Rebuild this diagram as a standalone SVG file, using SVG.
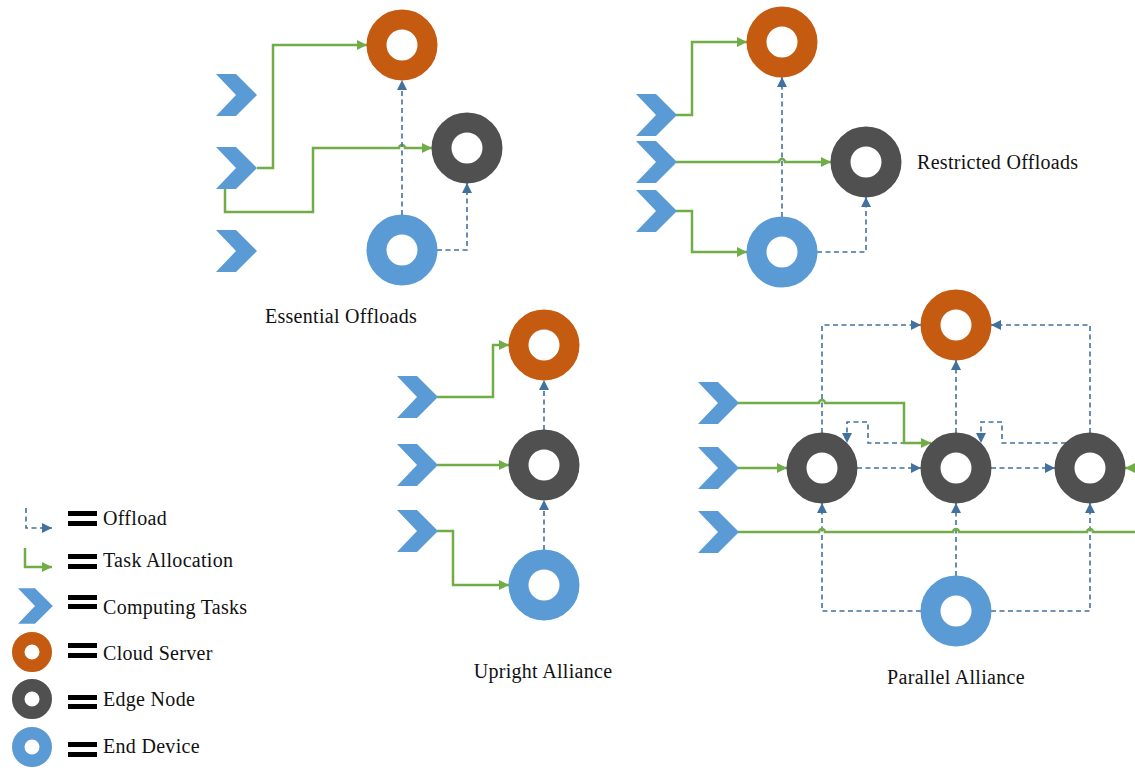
<svg xmlns="http://www.w3.org/2000/svg" width="1135" height="770" viewBox="0 0 1135 770">
  <style>
    .ring { fill: #ffffff; stroke-width: 20; }
    .ring-s { fill: #ffffff; stroke-width: 12.5; }
    .cloud { stroke: #C55A11; }
    .edge { stroke: #505050; }
    .dev { stroke: #5B9BD5; }
    .task { fill: #5B9BD5; }
    .alloc { fill: none; stroke: #70AD47; stroke-width: 2.5; stroke-linejoin: miter; }
    .off { fill: none; stroke: #41719C; stroke-width: 1.6; stroke-dasharray: 5 3.5; }
    .alloc-end { marker-end: url(#ag); }
    .off-end { marker-end: url(#ab); }
    .lbl { font-family: "Liberation Serif", "Times New Roman", serif; font-size: 20px; letter-spacing: 0.3px; fill: #111111; }
    .eq { fill: #000000; }
  </style>
  <defs>
    <marker id="ag" viewBox="0 0 10 10" refX="10" refY="5" markerWidth="11" markerHeight="10" markerUnits="userSpaceOnUse" orient="auto">
      <path d="M0,0 L10,5 L0,10 Z" fill="#70AD47"/>
    </marker>
    <marker id="ab" viewBox="0 0 10 10" refX="10" refY="5" markerWidth="10" markerHeight="10" markerUnits="userSpaceOnUse" orient="auto">
      <path d="M0,0 L10,5 L0,10 Z" fill="#41719C"/>
    </marker>
    <path id="chev" d="M0,-21 H20 L41,0 L20,21 H0 L20,0 Z"/>
  </defs>

  <!-- connectors -->
  <g id="connectors">
    <!-- Essential Offloads -->
    <path class="alloc alloc-end" d="M257,168 H273 V45 H367"/>
    <path class="alloc alloc-end" d="M225,189 V212 H313 V148 H399 a3,3 0 0 1 6,0 H432"/>
    <path class="off off-end" d="M402,215 V80"/>
    <path class="off off-end" d="M437,250 H467 V183"/>

    <!-- Restricted Offloads -->
    <path class="alloc alloc-end" d="M676,115 H692 V42 H747"/>
    <path class="alloc alloc-end" d="M676,162 H779 a3,3 0 0 1 6,0 H831"/>
    <path class="alloc alloc-end" d="M676,211 H692 V252 H747"/>
    <path class="off off-end" d="M782,217 V77"/>
    <path class="off off-end" d="M817,252 H866 V197"/>

    <!-- Upright Alliance -->
    <path class="alloc alloc-end" d="M437,397 H493 V345 H509"/>
    <path class="alloc alloc-end" d="M437,465 H509"/>
    <path class="alloc alloc-end" d="M437,531 H453 V585 H509"/>
    <path class="off off-end" d="M544,550 V500"/>
    <path class="off off-end" d="M544,430 V380"/>

    <!-- Parallel Alliance -->
    <path class="off off-end" d="M822,433 V325 H921"/>
    <path class="off off-end" d="M1090,433 V325 H991"/>
    <path class="off off-end" d="M956,433 V360"/>
    <path class="off off-end" d="M857,468 H921"/>
    <path class="off off-end" d="M991,468 H1055"/>
    <path class="off off-end" d="M931,443 H868 V422 H847 V443"/>
    <path class="off off-end" d="M1066,443 H1002 V422 H981 V443"/>
    <path class="off off-end" d="M956,576 V503"/>
    <path class="off off-end" d="M921,611 H822 V503"/>
    <path class="off off-end" d="M991,611 H1090 V503"/>
    <path class="alloc alloc-end" d="M738,403 H819 a3,3 0 0 1 6,0 H904 V443 H931"/>
    <path class="alloc alloc-end" d="M738,468 H787"/>
    <path class="alloc" d="M738,532 H819 a3,3 0 0 1 6,0 H953 a3,3 0 0 1 6,0 H1087 a3,3 0 0 1 6,0 H1145"/>
    <path class="alloc alloc-end" d="M1150,468 H1125"/>
  </g>

  <!-- Essential Offloads -->
  <g id="eo-tasks" class="task">
    <use href="#chev" transform="translate(216,95)"/>
    <use href="#chev" transform="translate(216,168)"/>
    <use href="#chev" transform="translate(216,251)"/>
  </g>
  <g id="eo-cloud"><circle class="ring cloud" cx="402" cy="45" r="25.5"/></g>
  <g id="eo-edge"><circle class="ring edge" cx="467" cy="148" r="25.5"/></g>
  <g id="eo-device"><circle class="ring dev" cx="402" cy="250" r="25.5"/></g>
  <text class="lbl" x="341" y="323" text-anchor="middle">Essential Offloads</text>

  <!-- Restricted Offloads -->
  <g id="ro-tasks" class="task">
    <use href="#chev" transform="translate(636,115)"/>
    <use href="#chev" transform="translate(636,162)"/>
    <use href="#chev" transform="translate(636,211)"/>
  </g>
  <g id="ro-cloud"><circle class="ring cloud" cx="782" cy="42" r="25.5"/></g>
  <g id="ro-edge"><circle class="ring edge" cx="866" cy="162" r="25.5"/></g>
  <g id="ro-device"><circle class="ring dev" cx="782" cy="252" r="25.5"/></g>
  <text class="lbl" x="917" y="169">Restricted Offloads</text>

  <!-- Upright Alliance -->
  <g id="ua-tasks" class="task">
    <use href="#chev" transform="translate(397,397)"/>
    <use href="#chev" transform="translate(397,465)"/>
    <use href="#chev" transform="translate(397,531)"/>
  </g>
  <g id="ua-cloud"><circle class="ring cloud" cx="544" cy="345" r="25.5"/></g>
  <g id="ua-edge"><circle class="ring edge" cx="544" cy="465" r="25.5"/></g>
  <g id="ua-device"><circle class="ring dev" cx="544" cy="585" r="25.5"/></g>
  <text class="lbl" x="543" y="678" text-anchor="middle">Upright Alliance</text>

  <!-- Parallel Alliance -->
  <g id="pa-tasks" class="task">
    <use href="#chev" transform="translate(698,403)"/>
    <use href="#chev" transform="translate(698,468)"/>
    <use href="#chev" transform="translate(698,532)"/>
  </g>
  <g id="pa-cloud"><circle class="ring cloud" cx="956" cy="325" r="25.5"/></g>
  <g id="pa-edge1"><circle class="ring edge" cx="822" cy="468" r="25.5"/></g>
  <g id="pa-edge2"><circle class="ring edge" cx="956" cy="468" r="25.5"/></g>
  <g id="pa-edge3"><circle class="ring edge" cx="1090" cy="468" r="25.5"/></g>
  <g id="pa-device"><circle class="ring dev" cx="956" cy="611" r="25.5"/></g>
  <text class="lbl" x="956" y="684" text-anchor="middle">Parallel Alliance</text>

  <!-- legend -->
  <g id="legend">
    <path class="off off-end" d="M26,508 V528 H52"/>
    <path class="alloc alloc-end" d="M25,548 V567 H52"/>
    <use href="#chev" class="task" transform="translate(18,606) scale(0.85)"/>
    <circle class="ring-s cloud" cx="32" cy="652" r="13.75"/>
    <circle class="ring-s edge" cx="32" cy="699" r="13.75"/>
    <circle class="ring-s dev" cx="32" cy="747" r="13.75"/>

    <rect class="eq" x="68" y="511" width="29" height="5"/>
    <rect class="eq" x="68" y="521" width="29" height="5"/>
    <rect class="eq" x="68" y="554" width="29" height="5"/>
    <rect class="eq" x="68" y="564" width="29" height="5"/>
    <rect class="eq" x="68" y="595" width="29" height="5"/>
    <rect class="eq" x="68" y="604" width="29" height="5"/>
    <rect class="eq" x="68" y="643" width="29" height="5"/>
    <rect class="eq" x="68" y="653" width="29" height="5"/>
    <rect class="eq" x="68" y="695" width="29" height="5"/>
    <rect class="eq" x="68" y="704" width="29" height="5"/>
    <rect class="eq" x="68" y="742" width="29" height="5"/>
    <rect class="eq" x="68" y="752" width="29" height="5"/>

    <text class="lbl" x="103" y="525">Offload</text>
    <text class="lbl" x="103" y="567">Task Allocation</text>
    <text class="lbl" x="103" y="614">Computing Tasks</text>
    <text class="lbl" x="103" y="660">Cloud Server</text>
    <text class="lbl" x="103" y="706">Edge Node</text>
    <text class="lbl" x="103" y="753">End Device</text>
  </g>
</svg>
